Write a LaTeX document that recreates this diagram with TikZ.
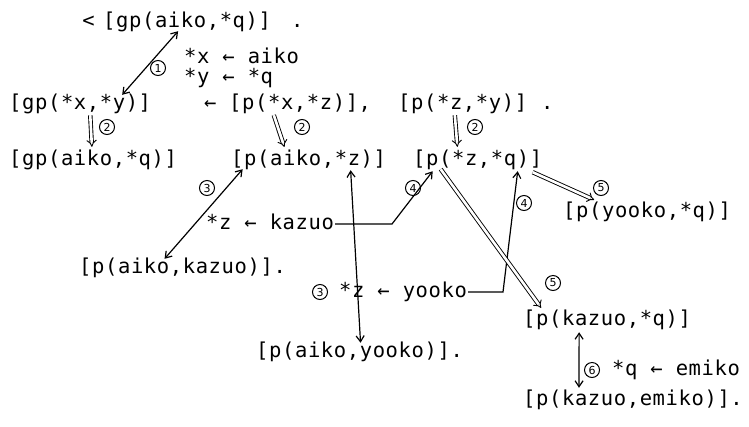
\documentclass[tikz,border=0pt]{standalone}
\usepackage{fontspec}
\newfontfamily\tw[LetterSpace=3]{DejaVu Sans Mono}
\newfontfamily\sym{DejaVu Sans}
\usetikzlibrary{arrows.meta,calc}
\tikzset{
  t/.style={font=\tw\fontsize{20.5}{22}\selectfont, inner sep=1pt, anchor=west, text height=13pt, text depth=3pt},
  num/.style={draw, circle, line width=1pt, inner sep=0pt, minimum size=15pt, font=\sym\fontsize{11}{11}\selectfont},
  barb/.tip={Straight Barb[length=6pt,width=8pt]},
  barr/.style={barb-barb, line width=1.2pt},
  lnk/.style={-barb, line width=1.2pt},
  dbl/.style={double distance=2.6pt, line width=0.9pt, -{Implies}},
}
\begin{document}
\begin{tikzpicture}[x=1pt,y=-1pt]
\useasboundingbox (0,0) rectangle (749,426);
% row 1
\node[t] (top) at (102,22) {[gp(aiko,*q)]};
\node[t, anchor=east] (lt) at (96,22) {<};
\node[t] (dot1) at (290,22) {.};
\node[t] (s1) at (183,58) {*x ← aiko};
\node[t] (s2) at (183,78) {*y ← *q};
\node[num] (c1) at (158,68) {1};
% row 2
\node[t] (gpxy) at (8,104) {[gp(*x,*y)]};
\node[t] (la) at (203,104) {←};
\node[t] (pxz) at (228,104) {[p(*x,*z)],};
\node[t] (pzy) at (397,104) {[p(*z,*y)]};
\node[t] (dot2) at (540,104) {.};
% row 3
\node[t] (gpa) at (8,160) {[gp(aiko,*q)]};
\node[t] (paz) at (230,160) {[p(aiko,*z)]};
\node[t] (pzq) at (412,160) {[p(*z,*q)]};
\node[num] (c2a) at (107,127) {2};
\node[num] (c2b) at (302,127) {2};
\node[num] (c2c) at (475,127) {2};
% lower
\node[t] (pyq) at (562,212) {[p(yooko,*q)]};
\node[t] (kz) at (205,224) {*z ← kazuo};
\node[t] (pak) at (78,268) {[p(aiko,kazuo)].};
\node[t] (yk) at (338,292) {*z ← yooko};
\node[t] (pkq) at (522,320) {[p(kazuo,*q)]};
\node[t] (pay) at (255,352) {[p(aiko,yooko)].};
\node[t] (em) at (611,370) {*q ← emiko};
\node[t] (pke) at (522,400) {[p(kazuo,emiko)].};
\node[num] (c3a) at (207,188) {3};
\node[num] (c3b) at (320,292) {3};
\node[num] (c4a) at (413,188) {4};
\node[num] (c4b) at (524,203) {4};
\node[num] (c5a) at (553,283) {5};
\node[num] (c5b) at (601,188) {5};
\node[num] (c6) at (592,370) {6};
\coordinate (kb) at (392,224);
\coordinate (yb) at (503,292);
% connectors
\draw[barr] ([xshift=-9pt]top.south) -- ([xshift=42pt]gpxy.north);
\draw[dbl,shorten <=2pt,shorten >=4pt] ([xshift=10pt]gpxy.south) -- ([xshift=-1pt]gpa.north);
\draw[dbl,shorten <=2pt,shorten >=4pt] ([xshift=-27pt]pxz.south) -- ([xshift=-23pt]paz.north);
\draw[dbl,shorten <=2pt,shorten >=4pt] ([xshift=-8pt]pzy.south) -- ([xshift=-20pt]pzq.north);
\draw[barr] ([xshift=-66pt]paz.south) -- ([xshift=-18pt]pak.north);
\draw[barr] ([xshift=42pt,yshift=-1pt]paz.south) -- ([xshift=1pt]pay.north);
\draw[lnk] (kz.east) -- (kb) -- ([xshift=-45pt,yshift=-2pt]pzq.south);
\draw[lnk] (yk.east) -- (yb) -- ([xshift=40pt,yshift=-2pt]pzq.south);
\draw[dbl] ([xshift=-37pt]pzq.south) -- ([xshift=-66pt,yshift=3pt]pkq.north);
\draw[dbl] ([xshift=55pt,yshift=-3pt]pzq.south) -- ([xshift=-53pt,yshift=3pt]pyq.north);
\draw[barr] ([xshift=-28pt,yshift=-3pt]pkq.south) -- ([xshift=-54pt,yshift=3pt]pke.north);
\end{tikzpicture}
\end{document}
